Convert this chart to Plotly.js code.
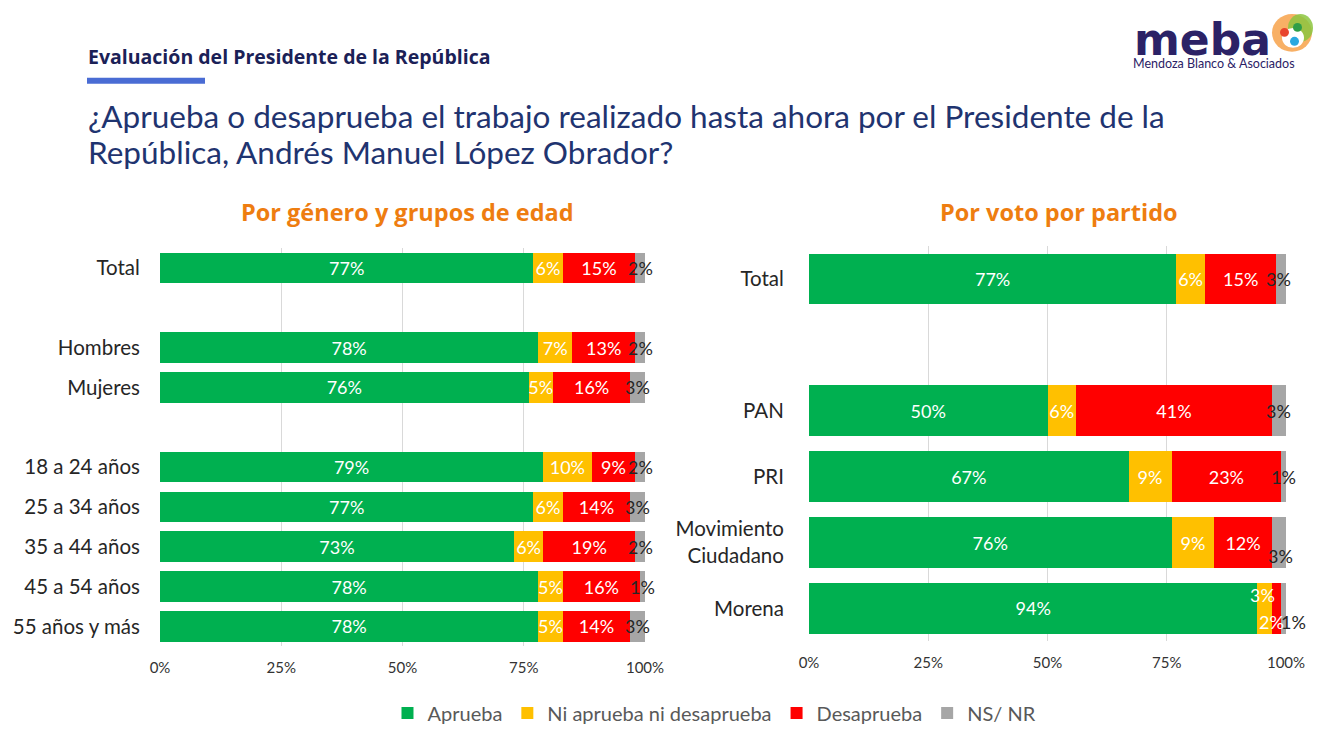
<!DOCTYPE html>
<html>
<head>
<meta charset="utf-8">
<script src="https://cdn.plot.ly/plotly-3.0.1.min.js"></script>
<style>
html,body{margin:0;padding:0;background:#fff;}
#chart{width:1338px;height:733px;}
</style>
</head>
<body>
<div id="chart"></div>
<script>
// ---------- DATA ----------
const seriesNames = ['Aprueba', 'Ni aprueba ni desaprueba', 'Desaprueba', 'NS/ NR'];

// Left panel: Por género y grupos de edad (blank entries are spacer rows)
const leftCats = ['Total', ' ', 'Hombres', 'Mujeres', '  ', '18 a 24 años', '25 a 34 años', '35 a 44 años', '45 a 54 años', '55 años y más'];
const leftAprueba = [77, null, 78, 76, null, 79, 77, 73, 78, 78];
const leftNi      = [6,  null, 7,  5,  null, 10, 6,  6,  5,  5];
const leftDesap   = [15, null, 13, 16, null, 9,  14, 19, 16, 14];
const leftNsnr    = [2,  null, 2,  3,  null, 2,  3,  2,  1,  3];

// Right panel: Por voto por partido
const rightCats = ['Total', ' ', 'PAN', 'PRI', 'Movimiento<br>Ciudadano', 'Morena'];
const rightAprueba = [77, null, 50, 67, 76, 94];
const rightNi      = [6,  null, 6,  9,  9,  3];
const rightDesap   = [15, null, 41, 23, 12, 2];
const rightNsnr    = [3,  null, 3,  1,  3,  1];

const xTickVals = [0, 25, 50, 75, 100];
const xTickText = ['0%', '25%', '50%', '75%', '100%'];

const headerText = 'Evaluación del Presidente de la República';
const questionLines = ['¿Aprueba o desaprueba el trabajo realizado hasta ahora por el Presidente de la',
                       'República, Andrés Manuel López Obrador?'];
const leftSubtitle = 'Por género y grupos de edad';
const rightSubtitle = 'Por voto por partido';

// ---------- STYLE ----------
const colors = ['#00B050', '#FFC000', '#FF0000', '#A6A6A6'];
const FONT = 'Lato, "Open Sans", "DejaVu Sans", sans-serif';
const BOLD = '"Open Sans", Lato, sans-serif';

const leftSeries = [leftAprueba, leftNi, leftDesap, leftNsnr];
const rightSeries = [rightAprueba, rightNi, rightDesap, rightNsnr];

// label overrides for crowded segments on the right panel: [series index, category, xshift, yshift]
const rightLabelMoves = [
  [3, 'Movimiento<br>Ciudadano', 2, 13],
  [1, 'Morena', -2, -13],
  [2, 'Morena', -5, 14],
  [3, 'Morena', 10, 14]
];

const pct = v => (v === null || v === undefined) ? '' : v + '%';
const traces = [];
const annotations = [];

function addPanel(cats, series, xa, ya, showLegend, moves) {
  series.forEach((vals, si) => {
    const texts = vals.map((v, i) => {
      if (si === 3) return '';
      const mv = moves.find(m => m[0] === si && m[1] === cats[i]);
      return mv ? '' : pct(v);
    });
    traces.push({
      type: 'bar',
      orientation: 'h',
      name: seriesNames[si],
      y: cats,
      x: vals,
      xaxis: xa,
      yaxis: ya,
      marker: {color: colors[si], line: {width: 0}},
      text: texts,
      textposition: 'inside',
      insidetextanchor: 'middle',
      textangle: 0,
      constraintext: 'none',
      textfont: {family: FONT, size: 18, color: '#FFFFFF'},
      hoverinfo: 'name+x',
      showlegend: showLegend,
      legendgroup: seriesNames[si]
    });
  });
  // labels for gray segments and moved labels, computed from cumulative values
  cats.forEach((c, i) => {
    let cum = 0;
    series.forEach((vals, si) => {
      const v = vals[i];
      if (v === null) return;
      const start = cum;
      cum += v;
      const mv = moves.find(m => m[0] === si && m[1] === c);
      if (si !== 3 && !mv) return;
      let center = start + v / 2;
      if (si === 3) center = Math.min(center, 100 - v / 2);
      annotations.push({
        x: center, y: c, xref: xa, yref: ya,
        text: pct(v), showarrow: false,
        xshift: mv ? mv[2] : 0,
        yshift: mv ? -mv[3] : 0,
        font: {family: FONT, size: 18, color: si === 3 ? '#262626' : '#FFFFFF'}
      });
    });
  });
}

addPanel(leftCats, leftSeries, 'x', 'y', true, []);
addPanel(rightCats, rightSeries, 'x2', 'y2', false, rightLabelMoves);

const W = 1338, H = 733;
const px = x => x / W;
const py = y => 1 - y / H;

const xaxisBase = {
  range: [0, 100],
  tickvals: xTickVals,
  ticktext: xTickText,
  showgrid: true,
  gridcolor: '#D9D9D9',
  gridwidth: 1,
  zeroline: false,
  showline: false,
  ticks: 'outside',
  ticklen: 8,
  tickcolor: 'rgba(0,0,0,0)',
  tickfont: {family: FONT, size: 15, color: '#333333'},
  fixedrange: true
};
const yaxisBase = {
  type: 'category',
  categoryorder: 'array',
  showgrid: false,
  zeroline: false,
  showline: false,
  ticks: 'outside',
  tickcolor: 'rgba(0,0,0,0)',
  tickfont: {family: FONT, size: 20.5, color: '#262626'},
  fixedrange: true
};

annotations.push(
  {xref: 'paper', yref: 'paper', x: px(86), y: py(57), xanchor: 'left', yanchor: 'middle',
   text: '<b>' + headerText + '</b>', showarrow: false,
   font: {family: BOLD, size: 19.5, color: '#1B2157'}},
  {xref: 'paper', yref: 'paper', x: px(86), y: py(116), xanchor: 'left', yanchor: 'middle',
   text: questionLines[0], showarrow: false, font: {family: FONT, size: 31.5, color: '#1F3470'}},
  {xref: 'paper', yref: 'paper', x: px(86), y: py(153), xanchor: 'left', yanchor: 'middle',
   text: questionLines[1], showarrow: false, font: {family: FONT, size: 31.5, color: '#1F3470'}},
  {xref: 'paper', yref: 'paper', x: px(407), y: py(213), xanchor: 'center', yanchor: 'middle',
   text: '<b>' + leftSubtitle + '</b>', showarrow: false,
   font: {family: BOLD, size: 23.5, color: '#EE7D10'}},
  {xref: 'paper', yref: 'paper', x: px(1059), y: py(213), xanchor: 'center', yanchor: 'middle',
   text: '<b>' + rightSubtitle + '</b>', showarrow: false,
   font: {family: BOLD, size: 23.5, color: '#EE7D10'}},
  {xref: 'paper', yref: 'paper', x: px(1133), y: py(40), xanchor: 'left', yanchor: 'middle',
   text: '<b>meba</b>', showarrow: false, borderpad: 0,
   font: {family: '"DejaVu Sans", sans-serif', size: 44, color: '#2B2266'}},
  {xref: 'paper', yref: 'paper', x: px(1132), y: py(64), xanchor: 'left', yanchor: 'middle',
   text: 'Mendoza Blanco &amp; Asociados', showarrow: false, borderpad: 0,
   font: {family: FONT, size: 12.5, color: '#2B2266'}}
);

const shapes = [
  {type: 'rect', xref: 'paper', yref: 'paper', x0: px(87), x1: px(205), y0: py(84), y1: py(78),
   fillcolor: '#4A6CD4', line: {width: 0}},
  // logo emblem (simple approximation)
  {type: 'circle', xref: 'paper', yref: 'paper', x0: px(1272), x1: px(1312), y0: py(52), y1: py(14),
   fillcolor: '#F7A24A', line: {width: 0}, opacity: 0.85},
  {type: 'circle', xref: 'paper', yref: 'paper', x0: px(1288), x1: px(1313), y0: py(42), y1: py(14),
   fillcolor: '#8CC63F', line: {width: 0}, opacity: 0.85},
  {type: 'circle', xref: 'paper', yref: 'paper', x0: px(1282), x1: px(1304), y0: py(48), y1: py(28),
   fillcolor: '#FFFFFF', line: {width: 0}},
  {type: 'circle', xref: 'paper', yref: 'paper', x0: px(1280), x1: px(1289), y0: py(37), y1: py(28),
   fillcolor: '#E8452C', line: {width: 0}},
  {type: 'circle', xref: 'paper', yref: 'paper', x0: px(1293), x1: px(1302), y0: py(32), y1: py(23),
   fillcolor: '#2E9E48', line: {width: 0}},
  {type: 'circle', xref: 'paper', yref: 'paper', x0: px(1290), x1: px(1299), y0: py(46), y1: py(37),
   fillcolor: '#29A8E0', line: {width: 0}}
];

const layout = {
  width: W, height: H,
  margin: {l: 0, r: 0, t: 0, b: 0},
  paper_bgcolor: '#FFFFFF',
  plot_bgcolor: 'rgba(0,0,0,0)',
  barmode: 'stack',
  bargap: 0.23,
  font: {family: FONT, color: '#262626'},
  xaxis: Object.assign({}, xaxisBase, {domain: [px(160), px(645)], anchor: 'y'}),
  yaxis: Object.assign({}, yaxisBase, {domain: [py(649), py(249)], anchor: 'x',
    categoryarray: leftCats, range: [leftCats.length - 0.5, -0.5], ticklen: 15}),
  xaxis2: Object.assign({}, xaxisBase, {domain: [px(809), px(1286)], anchor: 'y2'}),
  yaxis2: Object.assign({}, yaxisBase, {domain: [py(644), py(247)], anchor: 'x2',
    categoryarray: rightCats, range: [rightCats.length - 0.5, -0.5], ticklen: 20}),
  showlegend: true,
  legend: {
    orientation: 'h', x: 0.534, xanchor: 'center', y: py(716), yanchor: 'middle',
    font: {family: FONT, size: 20, color: '#595959'},
    itemwidth: 30,
    traceorder: 'normal', itemclick: false, itemdoubleclick: false
  },
  annotations: annotations,
  shapes: shapes
};

Plotly.newPlot('chart', traces, layout, {displayModeBar: false, staticPlot: true});
</script>
</body>
</html>
